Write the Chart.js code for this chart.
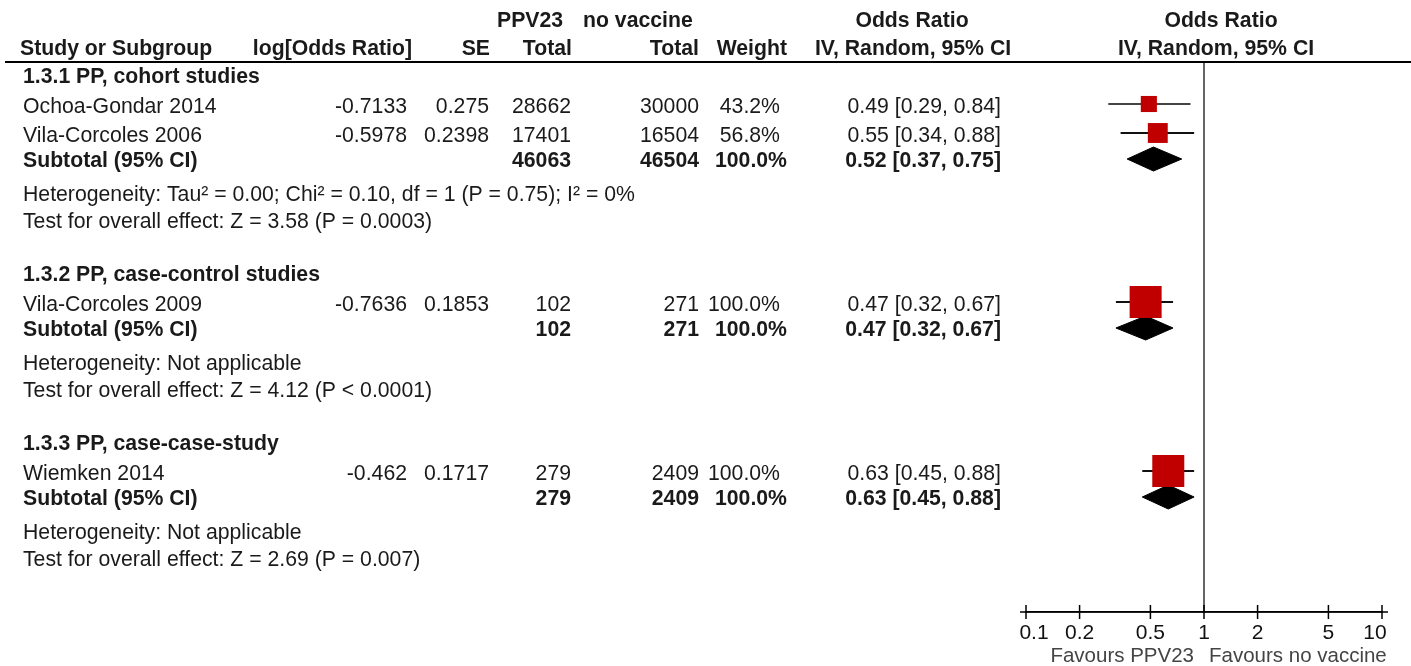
<!DOCTYPE html>
<html>
<head>
<meta charset="utf-8">
<script src="https://cdn.jsdelivr.net/npm/chart.js@4.4.1/dist/chart.umd.min.js"></script>
<style>
  html, body { margin: 0; padding: 0; background: #fff; }
  #wrap { width: 1411px; height: 666px; position: relative; }
</style>
</head>
<body>
<div id="wrap"><canvas id="forest"></canvas></div>
<script>
'use strict'

// ---- data ----
const groupNames = ['1.3.1 PP, cohort studies', '1.3.2 PP, case-control studies', '1.3.3 PP, case-case-study'];
const studyNames = ['Ochoa-Gondar 2014', 'Vila-Corcoles 2006', 'Vila-Corcoles 2009', 'Wiemken 2014'];
const studyGroup = [0, 0, 1, 2];
const logOR = [-0.7133, -0.5978, -0.7636, -0.462];
const stdErr = [0.275, 0.2398, 0.1853, 0.1717];
const ppvTotal = [28662, 17401, 102, 279];
const noVacTotal = [30000, 16504, 271, 2409];
const weights = [43.2, 56.8, 100.0, 100.0];
const oddsRatio = [0.49, 0.55, 0.47, 0.63];
const ciLow = [0.29, 0.34, 0.32, 0.45];
const ciHigh = [0.84, 0.88, 0.67, 0.88];

const subPpvTotal = [46063, 102, 279];
const subNoVacTotal = [46504, 271, 2409];
const subWeight = [100.0, 100.0, 100.0];
const subOR = [0.52, 0.47, 0.63];
const subLow = [0.37, 0.32, 0.45];
const subHigh = [0.75, 0.67, 0.88];
const heterogeneity = [
    'Heterogeneity: Tau\u00b2 = 0.00; Chi\u00b2 = 0.10, df = 1 (P = 0.75); I\u00b2 = 0%',
    'Heterogeneity: Not applicable',
    'Heterogeneity: Not applicable'
];
const overallEffect = [
    'Test for overall effect: Z = 3.58 (P = 0.0003)',
    'Test for overall effect: Z = 4.12 (P < 0.0001)',
    'Test for overall effect: Z = 2.69 (P = 0.007)'
];
const xTicks = [0.1, 0.2, 0.5, 1, 2, 5, 10];

// ---- row layout (y units = px below the header rule) ----
const groupY = [], studyY = [], subY = [], hetY = [], testY = [];
let cursor = 13;
groupNames.forEach((g, gi) => {
    groupY[gi] = cursor;
    cursor += 29;
    studyNames.forEach((s, si) => {
        if (studyGroup[si] === gi) {
            studyY[si] = cursor;
            cursor += 29;
        }
    });
    cursor -= 3;
    subY[gi] = cursor; cursor += 34;
    hetY[gi] = cursor; cursor += 27;
    testY[gi] = cursor; cursor += 53;
});

const RED = '#c00000';
const TXT = '#1a1a1a';
const FONT = '"Liberation Sans", Arial, sans-serif';

function boxSide(w) { return 4 + 28 * w / 100; }

// slightly condensed text
function narrowText(ctx, s, x, y, size, squeeze, align, bold) {
    ctx.save();
    ctx.font = (bold ? 'bold ' : '') + size + 'px ' + FONT;
    ctx.textAlign = align;
    ctx.translate(x, y);
    ctx.scale(squeeze, 1);
    ctx.fillText(s, 0, 0);
    ctx.restore();
}

const datasets = [];
// squares
datasets.push({
    data: oddsRatio.map((v, i) => ({ x: v, y: studyY[i] })),
    pointStyle: 'rect',
    pointRadius: weights.map(w => boxSide(w) / Math.SQRT2),
    backgroundColor: RED,
    borderColor: RED,
    borderWidth: 0,
    order: 0
});
// whiskers
oddsRatio.forEach((v, i) => {
    datasets.push({
        data: [{ x: ciLow[i], y: studyY[i] }, { x: ciHigh[i], y: studyY[i] }],
        showLine: true,
        borderColor: i === 0 ? '#444' : '#111',
        borderWidth: 2,
        pointRadius: 0,
        order: 2
    });
});
// diamonds
subOR.forEach((v, gi) => {
    const y = subY[gi];
    datasets.push({
        data: [
            { x: subLow[gi], y: y },
            { x: v, y: y - 12 },
            { x: subHigh[gi], y: y },
            { x: v, y: y + 12 },
            { x: subLow[gi], y: y }
        ],
        showLine: true,
        fill: 'shape',
        backgroundColor: '#000',
        borderColor: '#000',
        borderWidth: 1,
        pointRadius: 0,
        order: 1
    });
});
// line of no effect
datasets.push({
    data: [{ x: 1, y: 0 }, { x: 1, y: 550 }],
    showLine: true,
    borderColor: '#333',
    borderWidth: 1.5,
    pointRadius: 0,
    order: 3
});

const tablePlugin = {
    id: 'forestTable',
    afterDraw(chart) {
        const ctx = chart.ctx;
        const ys = chart.scales.y;
        const xs = chart.scales.x;
        const py = v => ys.getPixelForValue(v) + 2;
        const txt = (s, x, y, align, bold) => narrowText(ctx, s, x, y, 22, 0.965, align, bold);

        ctx.save();
        ctx.fillStyle = TXT;
        ctx.textBaseline = 'middle';

        // header
        const h1 = py(-43), h2 = py(-15);
        txt('PPV23', 497, h1, 'left', true);
        txt('no vaccine', 583, h1, 'left', true);
        txt('Odds Ratio', 912, h1, 'center', true);
        txt('Odds Ratio', 1221, h1, 'center', true);
        txt('Study or Subgroup', 20, h2, 'left', true);
        txt('log[Odds Ratio]', 412, h2, 'right', true);
        txt('SE', 490, h2, 'right', true);
        txt('Total', 572, h2, 'right', true);
        txt('Total', 699, h2, 'right', true);
        txt('Weight', 787, h2, 'right', true);
        txt('IV, Random, 95% CI', 913, h2, 'center', true);
        txt('IV, Random, 95% CI', 1216, h2, 'center', true);

        // rule under header
        ctx.strokeStyle = '#000';
        ctx.lineWidth = 2;
        ctx.beginPath();
        ctx.moveTo(5, ys.getPixelForValue(0));
        ctx.lineTo(chart.width, ys.getPixelForValue(0));
        ctx.stroke();

        const ci = (o, l, h) => o.toFixed(2) + ' [' + l.toFixed(2) + ', ' + h.toFixed(2) + ']';

        groupNames.forEach((g, gi) => {
            txt(g, 23, py(groupY[gi]), 'left', true);
            studyNames.forEach((s, i) => {
                if (studyGroup[i] !== gi) return;
                const y = py(studyY[i]) + 1;
                txt(s, 23, y, 'left', false);
                txt(String(logOR[i]), 407, y, 'right', false);
                txt(String(stdErr[i]), 489, y, 'right', false);
                txt(String(ppvTotal[i]), 571, y, 'right', false);
                txt(String(noVacTotal[i]), 699, y, 'right', false);
                txt(weights[i].toFixed(1) + '%', 780, y, 'right', false);
                txt(ci(oddsRatio[i], ciLow[i], ciHigh[i]), 1001, y, 'right', false);
            });
            const y = py(subY[gi]);
            txt('Subtotal (95% CI)', 23, y, 'left', true);
            txt(String(subPpvTotal[gi]), 571, y, 'right', true);
            txt(String(subNoVacTotal[gi]), 699, y, 'right', true);
            txt(subWeight[gi].toFixed(1) + '%', 787, y, 'right', true);
            txt(ci(subOR[gi], subLow[gi], subHigh[gi]), 1001, y, 'right', true);
            txt(heterogeneity[gi], 23, py(hetY[gi]), 'left', false);
            txt(overallEffect[gi], 23, py(testY[gi]), 'left', false);
        });

        // axis: line overhang, crossing ticks, tick labels, favours labels
        const axY = xs.top;
        ctx.strokeStyle = '#000';
        ctx.lineWidth = 1.5;
        ctx.beginPath();
        ctx.moveTo(xs.left - 6, axY);
        ctx.lineTo(xs.right + 6, axY);
        xTicks.forEach(t => {
            const x = xs.getPixelForValue(t);
            ctx.moveTo(x, axY - 7);
            ctx.lineTo(x, axY + 7);
        });
        ctx.stroke();

        ctx.fillStyle = '#111';
        ctx.textBaseline = 'alphabetic';
        xTicks.forEach((t, i) => {
            let x = xs.getPixelForValue(t);
            if (i === 0) x += 8;
            if (i === xTicks.length - 1) x -= 7;
            narrowText(ctx, String(t), x, axY + 27, 21, 1, 'center', false);
        });

        ctx.fillStyle = '#444';
        const one = xs.getPixelForValue(1);
        narrowText(ctx, 'Favours PPV23', one - 10, axY + 50, 20.5, 1, 'right', false);
        narrowText(ctx, 'Favours no vaccine', one + 5, axY + 50, 20.5, 1, 'left', false);
        ctx.restore();
    }
};

new Chart(document.getElementById('forest'), {
    type: 'scatter',
    data: { datasets: datasets },
    options: {
        responsive: true,
        maintainAspectRatio: false,
        animation: false,
        layout: { padding: { left: 1026, right: 29, top: 62, bottom: 0 } },
        plugins: { legend: { display: false }, tooltip: { enabled: false } },
        scales: {
            x: {
                type: 'logarithmic',
                min: 0.1,
                max: 10,
                afterBuildTicks: s => { s.ticks = xTicks.map(v => ({ value: v })); },
                afterFit: s => { s.height = 54; },
                ticks: { display: false },
                grid: { display: false },
                border: { display: true, color: '#000', width: 1.5 }
            },
            y: {
                type: 'linear',
                min: 0,
                max: 550,
                reverse: true,
                display: false
            }
        }
    },
    plugins: [tablePlugin]
});
</script>
</body>
</html>
